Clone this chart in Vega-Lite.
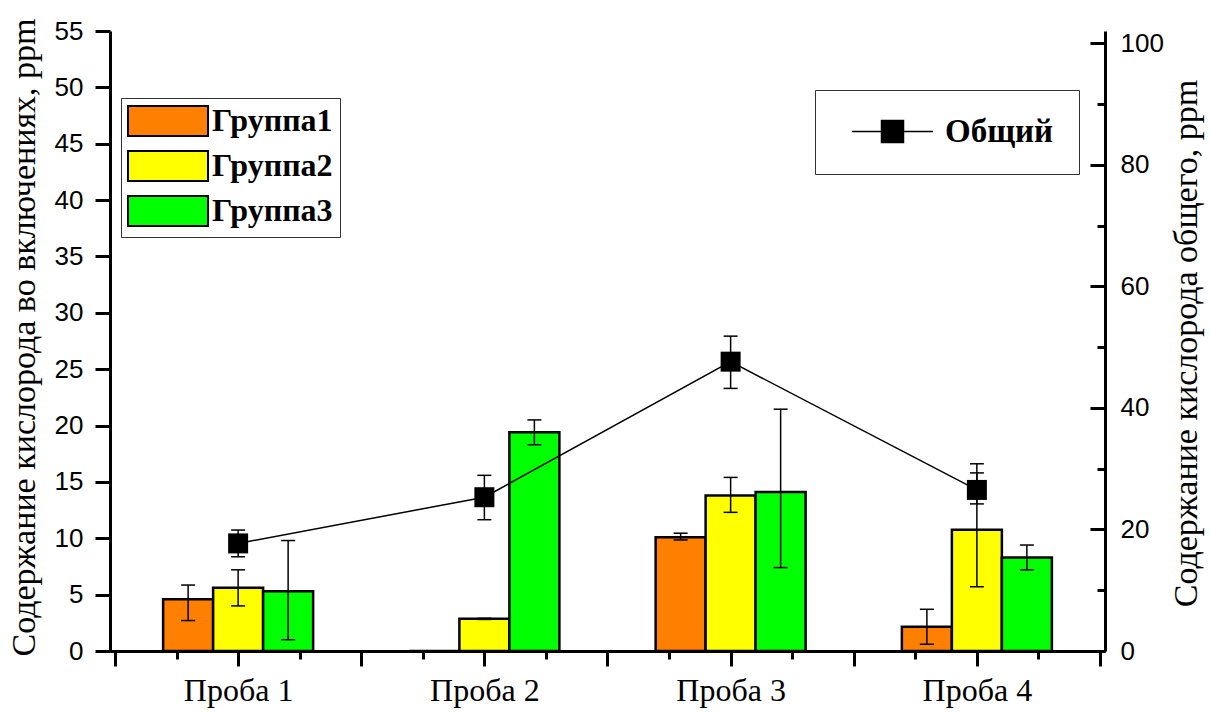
{
  "$schema": "https://vega.github.io/schema/vega-lite/v6.json",
  "autosize": "none",
  "width": 995,
  "height": 620,
  "padding": {"left": 110, "top": 31, "right": 106, "bottom": 64},
  "background": "white",
  "config": {
    "font": "Liberation Serif",
    "view": {"stroke": null},
    "axis": {"domainColor": "black", "tickColor": "black", "labelColor": "black", "titleColor": "black", "grid": false, "domainWidth": 3, "tickWidth": 3,
      "titleFont": "Liberation Serif", "titleFontSize": 34, "titleFontWeight": "normal"}
  },
  "datasets": {
    "bars": [
      {"n": 1, "group": "Группа1", "value": 4.6, "lo": 2.7, "hi": 5.85},
      {"n": 1, "group": "Группа2", "value": 5.6, "lo": 4.0, "hi": 7.2},
      {"n": 1, "group": "Группа3", "value": 5.3, "lo": 1.0, "hi": 9.8},
      {"n": 2, "group": "Группа1", "value": 0, "lo": 0, "hi": 0},
      {"n": 2, "group": "Группа2", "value": 2.85, "lo": 2.8, "hi": 2.9},
      {"n": 2, "group": "Группа3", "value": 19.4, "lo": 18.3, "hi": 20.5},
      {"n": 3, "group": "Группа1", "value": 10.1, "lo": 9.85, "hi": 10.45},
      {"n": 3, "group": "Группа2", "value": 13.8, "lo": 12.3, "hi": 15.4},
      {"n": 3, "group": "Группа3", "value": 14.1, "lo": 7.4, "hi": 21.45},
      {"n": 4, "group": "Группа1", "value": 2.15, "lo": 0.6, "hi": 3.7},
      {"n": 4, "group": "Группа2", "value": 10.75, "lo": 5.7, "hi": 15.8},
      {"n": 4, "group": "Группа3", "value": 8.3, "lo": 7.2, "hi": 9.4}
    ],
    "total": [
      {"n": 1, "series": "Общий", "value": 17.7, "lo": 15.5, "hi": 19.9},
      {"n": 2, "series": "Общий", "value": 25.3, "lo": 21.6, "hi": 28.9},
      {"n": 3, "series": "Общий", "value": 47.6, "lo": 43.2, "hi": 51.8},
      {"n": 4, "series": "Общий", "value": 26.5, "lo": 24.2, "hi": 30.8}
    ]
  },
  "layer": [
    {
      "data": {"name": "bars"},
      "layer": [
        {
          "transform": [{"filter": "datum.group === 'Группа1'"}],
          "mark": {"type": "bar", "orient": "vertical", "width": 50, "xOffset": -50, "stroke": "black", "strokeWidth": 2.5},
          "encoding": {
            "x": {"field": "n", "type": "quantitative", "title": null,
              "scale": {"domain": [0.5, 4.5], "nice": false, "zero": false},
              "axis": {
                "values": [0.5, 0.75, 1, 1.25, 1.5, 1.75, 2, 2.25, 2.5, 2.75, 3, 3.25, 3.5, 3.75, 4, 4.25, 4.5],
                "labelExpr": "datum.value % 1 === 0 ? 'Проба ' + datum.value : ''",
                "tickSize": 15,
                "tickDash": {"condition": {"test": "datum.value % 0.5 === 0", "value": []}, "value": [8, 100]},
                "labelFont": "Liberation Serif", "labelFontSize": 32, "labelPadding": 34, "labelBaseline": "alphabetic",
                "labelOverlap": false, "labelFlush": false, "grid": false, "title": null
              }
            },
            "y": {"field": "value", "type": "quantitative", "stack": null,
              "scale": {"domain": [0, 55], "nice": false},
              "axis": {
                "orient": "left",
                "values": [0, 2.5, 5, 7.5, 10, 12.5, 15, 17.5, 20, 22.5, 25, 27.5, 30, 32.5, 35, 37.5, 40, 42.5, 45, 47.5, 50, 52.5, 55],
                "labelExpr": "datum.value % 5 === 0 ? datum.label : ''",
                "tickSize": 15,
                "tickDash": {"condition": {"test": "datum.value % 5 === 0", "value": []}, "value": [8, 100]},
                "labelFont": "Liberation Sans", "labelFontSize": 26, "labelPadding": 12,
                "labelOverlap": false, "labelFlush": false,
                "title": "Содержание кислорода во включениях, ppm",
                "titleFont": "Liberation Serif", "titleFontSize": 34, "titleFontWeight": "normal",
                "titleX": -76, "titleY": 306, "titleBaseline": "alphabetic", "titleAngle": 270
              }
            },
            "fill": {"field": "group", "type": "nominal",
              "scale": {"domain": ["Группа1", "Группа2", "Группа3"], "range": ["#ff7f00", "#ffff00", "#00ff00"]},
              "legend": {
                "orient": "none", "legendX": 11, "legendY": 67, "title": null,
                "symbolType": "M-2.667,-1H2.667V1H-2.667Z", "symbolSize": 900, "symbolOffset": 24,
                "symbolStrokeColor": "black", "symbolStrokeWidth": 2,
                "labelOffset": 28, "rowPadding": 7, "padding": 7,
                "strokeColor": "#333", "fillColor": "white",
                "labelFont": "Liberation Serif", "labelFontSize": 32, "labelFontWeight": "bold", "labelColor": "black"
              }
            }
          }
        },
        {
          "transform": [{"filter": "datum.group === 'Группа2'"}],
          "mark": {"type": "bar", "orient": "vertical", "width": 50, "xOffset": 0, "stroke": "black", "strokeWidth": 2.5},
          "encoding": {
            "x": {"field": "n", "type": "quantitative", "scale": {"domain": [0.5, 4.5], "nice": false, "zero": false}},
            "y": {"field": "value", "type": "quantitative", "stack": null, "scale": {"domain": [0, 55], "nice": false}},
            "fill": {"field": "group", "type": "nominal", "scale": {"domain": ["Группа1", "Группа2", "Группа3"], "range": ["#ff7f00", "#ffff00", "#00ff00"]}}
          }
        },
        {
          "transform": [{"filter": "datum.group === 'Группа3'"}],
          "mark": {"type": "bar", "orient": "vertical", "width": 50, "xOffset": 50, "stroke": "black", "strokeWidth": 2.5},
          "encoding": {
            "x": {"field": "n", "type": "quantitative", "scale": {"domain": [0.5, 4.5], "nice": false, "zero": false}},
            "y": {"field": "value", "type": "quantitative", "stack": null, "scale": {"domain": [0, 55], "nice": false}},
            "fill": {"field": "group", "type": "nominal", "scale": {"domain": ["Группа1", "Группа2", "Группа3"], "range": ["#ff7f00", "#ffff00", "#00ff00"]}}
          }
        },
        {
          "transform": [{"filter": "datum.group === 'Группа1'"}],
          "mark": {"type": "rule", "xOffset": -50, "color": "black", "strokeWidth": 1.5},
          "encoding": {
            "x": {"field": "n", "type": "quantitative", "scale": {"domain": [0.5, 4.5], "nice": false, "zero": false}},
            "y": {"field": "lo", "type": "quantitative", "scale": {"domain": [0, 55], "nice": false}},
            "y2": {"field": "hi"}
          }
        },
        {
          "transform": [{"filter": "datum.group === 'Группа2'"}],
          "mark": {"type": "rule", "xOffset": 0, "color": "black", "strokeWidth": 1.5},
          "encoding": {
            "x": {"field": "n", "type": "quantitative", "scale": {"domain": [0.5, 4.5], "nice": false, "zero": false}},
            "y": {"field": "lo", "type": "quantitative", "scale": {"domain": [0, 55], "nice": false}},
            "y2": {"field": "hi"}
          }
        },
        {
          "transform": [{"filter": "datum.group === 'Группа3'"}],
          "mark": {"type": "rule", "xOffset": 50, "color": "black", "strokeWidth": 1.5},
          "encoding": {
            "x": {"field": "n", "type": "quantitative", "scale": {"domain": [0.5, 4.5], "nice": false, "zero": false}},
            "y": {"field": "lo", "type": "quantitative", "scale": {"domain": [0, 55], "nice": false}},
            "y2": {"field": "hi"}
          }
        },
        {
          "transform": [{"filter": "datum.group === 'Группа1'"}, {"fold": ["lo", "hi"], "as": ["end", "v"]}],
          "mark": {"type": "tick", "orient": "horizontal", "size": 14, "thickness": 1.5, "xOffset": -50, "color": "black", "opacity": 1},
          "encoding": {
            "x": {"field": "n", "type": "quantitative", "scale": {"domain": [0.5, 4.5], "nice": false, "zero": false}},
            "y": {"field": "v", "type": "quantitative", "scale": {"domain": [0, 55], "nice": false}}
          }
        },
        {
          "transform": [{"filter": "datum.group === 'Группа2'"}, {"fold": ["lo", "hi"], "as": ["end", "v"]}],
          "mark": {"type": "tick", "orient": "horizontal", "size": 14, "thickness": 1.5, "xOffset": 0, "color": "black", "opacity": 1},
          "encoding": {
            "x": {"field": "n", "type": "quantitative", "scale": {"domain": [0.5, 4.5], "nice": false, "zero": false}},
            "y": {"field": "v", "type": "quantitative", "scale": {"domain": [0, 55], "nice": false}}
          }
        },
        {
          "transform": [{"filter": "datum.group === 'Группа3'"}, {"fold": ["lo", "hi"], "as": ["end", "v"]}],
          "mark": {"type": "tick", "orient": "horizontal", "size": 14, "thickness": 1.5, "xOffset": 50, "color": "black", "opacity": 1},
          "encoding": {
            "x": {"field": "n", "type": "quantitative", "scale": {"domain": [0.5, 4.5], "nice": false, "zero": false}},
            "y": {"field": "v", "type": "quantitative", "scale": {"domain": [0, 55], "nice": false}}
          }
        }
      ]
    },
    {
      "data": {"name": "total"},
      "layer": [
        {
          "mark": {"type": "line", "strokeWidth": 1.5},
          "encoding": {
            "x": {"field": "n", "type": "quantitative", "scale": {"domain": [0.5, 4.5], "nice": false, "zero": false}},
            "y": {"field": "value", "type": "quantitative",
              "scale": {"domain": [0, 102], "nice": false},
              "axis": {
                "orient": "right",
                "values": [0, 10, 20, 30, 40, 50, 60, 70, 80, 90, 100],
                "labelExpr": "datum.value % 20 === 0 ? datum.label : ''",
                "tickSize": -15,
                "tickDash": {"condition": {"test": "datum.value % 20 === 0", "value": []}, "value": [8, 100]},
                "labelFont": "Liberation Sans", "labelFontSize": 26, "labelPadding": 30,
                "labelOverlap": false, "labelFlush": false,
                "title": "Содержание кислорода общего, ppm",
                "titleFont": "Liberation Serif", "titleFontSize": 34, "titleFontWeight": "normal",
                "titleX": 91, "titleY": 312, "titleBaseline": "alphabetic", "titleAngle": 270
              }
            },
            "stroke": {"field": "series", "type": "nominal",
              "scale": {"domain": ["Общий"], "range": ["black"]},
              "legend": {
                "orient": "none", "legendX": 705, "legendY": 59, "title": null,
                "symbolType": "M-3.68,0H3.68M-1,-1H1V1H-1Z",
                "symbolSize": 484, "symbolOffset": 36, "labelOffset": 36, "padding": 25,
                "symbolFillColor": "black", "symbolStrokeColor": "black", "symbolStrokeWidth": 1.5,
                "strokeColor": "#333", "fillColor": "white",
                "labelFont": "Liberation Serif", "labelFontSize": 33, "labelFontWeight": "bold", "labelColor": "black",
                "encode": {"symbols": {"update": {"fill": {"value": "black"}, "opacity": {"value": 1}}}}
              }
            }
          }
        },
        {
          "mark": {"type": "rule", "color": "black", "strokeWidth": 1.5},
          "encoding": {
            "x": {"field": "n", "type": "quantitative", "scale": {"domain": [0.5, 4.5], "nice": false, "zero": false}},
            "y": {"field": "lo", "type": "quantitative", "scale": {"domain": [0, 102], "nice": false}},
            "y2": {"field": "hi"}
          }
        },
        {
          "transform": [{"fold": ["lo", "hi"], "as": ["end", "v"]}],
          "mark": {"type": "tick", "orient": "horizontal", "size": 14, "thickness": 1.5, "color": "black", "opacity": 1},
          "encoding": {
            "x": {"field": "n", "type": "quantitative", "scale": {"domain": [0.5, 4.5], "nice": false, "zero": false}},
            "y": {"field": "v", "type": "quantitative", "scale": {"domain": [0, 102], "nice": false}}
          }
        },
        {
          "mark": {"type": "square", "filled": true, "color": "black", "size": 400, "opacity": 1},
          "encoding": {
            "x": {"field": "n", "type": "quantitative", "scale": {"domain": [0.5, 4.5], "nice": false, "zero": false}},
            "y": {"field": "value", "type": "quantitative", "scale": {"domain": [0, 102], "nice": false}}
          }
        }
      ]
    }
  ],
  "resolve": {"scale": {"y": "independent"}}
}
